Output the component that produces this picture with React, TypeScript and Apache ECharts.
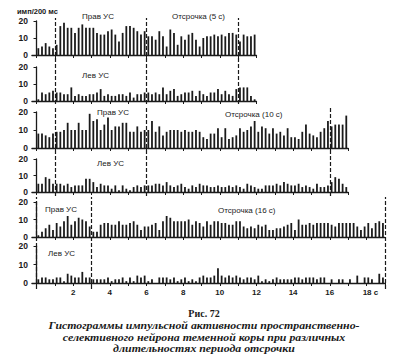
import React, { useEffect, useRef } from "react";
import * as echarts from "echarts";

// ---------- data ----------
const BIN_SEC = 0.2; // 200 ms bins
const xLabelValues = [2, 4, 6, 8, 10, 12, 14, 16, 18];

// Delay 5 s
const rightCue5 = [4, 5, 7, 5, 4,
  6, 17, 19, 16, 16, 13, 16, 18, 16, 16, 16, 13, 12, 12, 14, 15, 12, 8, 13, 17, 17, 16, 14, 12, 14,
  11, 11, 9, 14, 11, 5, 15, 13, 6, 11, 9, 12, 13, 9, 5, 10, 11, 11, 12, 11, 12, 11, 13, 13, 12,
  8, 12, 11, 11, 12];
const leftCue5 = [1, 5, 4, 5, 6,
  5, 5, 4, 4, 8, 3, 4, 3, 3, 4, 4, 5, 7, 3, 4, 3, 3, 4, 4, 3, 5, 2, 4, 4, 5,
  5, 4, 5, 4, 8, 4, 6, 7, 3, 4, 5, 5, 6, 3, 6, 4, 3, 5, 5, 7, 4, 6, 4, 3, 7,
  8, 8, 8, 3, 1];
// Delay 10 s
const rightCue10 = [8, 8, 7, 6, 8,
  9, 9, 10, 14, 10, 10, 14, 10, 10, 19, 15, 16, 10, 13, 17, 10, 12, 12, 14, 14, 9, 9, 12, 9, 10,
  10, 15, 9, 12, 7, 9, 10, 10, 10, 9, 10, 9,
  9, 10, 9, 6, 5, 8, 8, 11, 6, 11, 5, 6, 7, 11, 9, 10, 12, 15, 9, 12, 11, 8, 11, 8, 9, 7, 11, 6, 6, 5, 9, 13, 8, 7, 6, 9, 11, 15,
  12, 13, 13, 13, 18];
const leftCue10 = [5, 5, 9, 8, 5,
  5, 5, 4, 5, 3, 4, 4, 4, 8, 8, 6, 3, 5, 4, 4, 2, 4, 1, 4, 2, 1, 3, 4, 3, 4,
  4, 4, 5, 5, 4, 6, 4, 3, 4, 5, 3, 2, 4,
  3, 5, 4, 4, 3, 3, 4, 3, 3, 4, 3, 4, 3, 2, 5, 4, 3, 2, 2, 4, 4, 4, 5, 4, 6, 5, 4, 4, 5, 3, 4, 3, 2, 5, 3, 3, 4,
  6, 9, 8, 5, 3];
// Delay 16 s
const rightCue16 = [1, 3, 5, 7, 4, 8, 6, 9, 12, 7, 9, 11, 10, 9, 6,
  3, 3, 7, 8, 8, 7, 7, 9, 7, 7, 8, 9, 7, 4, 6, 6, 7, 8, 4, 9, 12, 11, 9, 9, 9, 9, 10, 7, 9, 8, 6,
  9, 7, 9, 9, 8, 8, 7, 7, 9, 9, 6, 5, 6, 5, 7, 6, 7, 4, 4, 5, 5, 6, 7, 8, 4, 10, 7, 7, 8, 7,
  8, 8, 8, 8, 7, 6, 8, 8, 8, 8, 8, 6, 4, 6, 8, 5, 8, 9, 8];
const leftCue16 = [2, 3, 3, 2, 2, 3, 3, 1, 5, 4, 3, 3, 6, 3, 3,
  2, 2, 2, 2, 3, 1, 2, 2, 3, 1, 3, 1, 4, 3, 4, 1, 2, 0, 3, 3, 3, 2, 3, 1, 2, 3, 1, 2, 1, 3, 4,
  3, 3, 4, 8, 4, 3, 4, 3, 4, 3, 2, 3, 3, 2, 4, 1, 2, 1, 2, 3, 2, 2, 2, 2, 3, 3, 2, 3, 3, 3,
  2, 3, 3, 0, 2, 0, 2, 2, 0, 2, 0, 4, 0, 3, 3, 2, 0, 5, 3];

// epoch boundaries (s): cue onset, delay onset, delay end
const markers5 = [1, 6, 11];
const markers10 = [1, 6, 16];
const markers16 = [0, 3, 19];

const captionLines = [
  "Гистограммы импульсной активности пространственно-",
  "селективного нейрона теменной коры при различных",
  "длительностях периода отсрочки",
];

// ---------- layout ----------
const PX_PER_SEC = 18.33;
const X0 = 36.5;
const X_MIN = -0.25;
const INK = "#1a1a1a";
const SANS = "'Liberation Sans', Arial, sans-serif";
const SERIF = "'Liberation Serif', 'Times New Roman', serif";

const panels = [
  { values: rightCue5, end: 12, top: 21, bottom: 55 },
  { values: leftCue5, end: 12, top: 67, bottom: 101 },
  { values: rightCue10, end: 17, top: 112, bottom: 148 },
  { values: leftCue10, end: 17, top: 159, bottom: 192 },
  { values: rightCue16, end: 19, top: 202, bottom: 237 },
  { values: leftCue16, end: 19, top: 246, bottom: 283 },
];
const overlays = [
  { markers: markers5, end: 12, top: 18, bottom: 104 },
  { markers: markers10, end: 17, top: 107, bottom: 196 },
  { markers: markers16, end: 19, top: 197, bottom: 289 },
];

const range = (n: number) => Array.from({ length: n + 1 }, (_, i) => i);

function buildOption() {
  const grid: any[] = [];
  const xAxis: any[] = [];
  const yAxis: any[] = [];
  const series: any[] = [];

  panels.forEach((p, i) => {
    grid.push({
      left: X0 + X_MIN * PX_PER_SEC,
      top: p.top,
      width: (p.end - X_MIN) * PX_PER_SEC,
      height: p.bottom - p.top,
    });
    const last = i === panels.length - 1;
    xAxis.push({
      type: "value",
      gridIndex: i,
      min: X_MIN,
      max: p.end,
      axisLine: { show: true, lineStyle: { color: INK, width: 1.3 } },
      axisTick: { show: true, length: 3, lineStyle: { color: INK, width: 1 }, customValues: range(p.end) },
      axisLabel: last
        ? {
            show: true,
            customValues: xLabelValues,
            color: INK,
            fontSize: 8,
            fontWeight: "bold",
            fontFamily: SANS,
            margin: 5,
            formatter: (v: number) => (v === 18 ? "{p|}18 с" : String(v)),
            rich: { p: { width: 8 } },
          }
        : { show: false },
      splitLine: { show: false },
    });
    yAxis.push({
      type: "value",
      gridIndex: i,
      min: 0,
      max: 20,
      interval: 10,
      axisLine: { show: true, lineStyle: { color: INK, width: 1.3 } },
      axisTick: { show: true, length: 3, lineStyle: { color: INK } },
      axisLabel: { color: INK, fontSize: 8.5, fontWeight: "bold", fontFamily: SANS, margin: 4 },
      splitLine: { show: false },
    });
    series.push({
      type: "bar",
      xAxisIndex: i,
      yAxisIndex: i,
      barWidth: 1.8,
      itemStyle: { color: INK },
      data: p.values.map((v, k) => [k * BIN_SEC + BIN_SEC / 2, v]),
    });
  });

  overlays.forEach((o, j) => {
    const gi = panels.length + j;
    grid.push({
      left: X0 + X_MIN * PX_PER_SEC,
      top: o.top,
      width: (o.end - X_MIN) * PX_PER_SEC,
      height: o.bottom - o.top,
    });
    xAxis.push({ type: "value", gridIndex: gi, min: X_MIN, max: o.end, show: false });
    yAxis.push({ type: "value", gridIndex: gi, min: 0, max: 1, show: false });
    series.push({
      type: "line",
      xAxisIndex: gi,
      yAxisIndex: gi,
      data: [],
      showSymbol: false,
      silent: true,
      markLine: {
        silent: true,
        symbol: ["none", "none"],
        label: { show: false },
        lineStyle: { type: [4, 2], color: INK, width: 1.2 },
        data: o.markers.map((m) => ({ xAxis: m })),
      },
    });
  });

  const txt = (text: string, x: number, y: number, extra: any = {}, el: any = {}) => ({
    type: "text",
    x,
    y,
    ...el,
    style: {
      text,
      fill: INK,
      font: `8px ${SANS}`,
      textVerticalAlign: "middle",
      ...extra,
    },
  });

  const captionStyle = { font: `italic bold 10.5px ${SERIF}`, textAlign: "center" };
  const graphic = [
    txt("имп/200 мс", 17, 11, { font: `bold 7.5px ${SANS}` }),
    txt("Прав УС", 82, 16),
    txt("Отсрочка (5 с)", 172, 16),
    txt("Лев УС", 82, 75),
    txt("Прав УС", 97, 112),
    txt("Отсрочка (10 с)", 225, 114),
    txt("Лев УС", 97, 163),
    txt("Прав УС", 45, 209),
    txt("Отсрочка (16 с)", 218, 210),
    txt("Лев УС", 48, 253),
    txt("Рис. 72", 204, 313, { font: `bold 10px ${SERIF}`, textAlign: "center" }),
    ...captionLines.map((line, k) =>
      txt(line, 204, 325.5 + k * 11.5, captionStyle, { scaleX: 1.13 })
    ),
  ];

  return {
    animation: false,
    backgroundColor: "#ffffff",
    grid,
    xAxis,
    yAxis,
    series,
    graphic,
  };
}

export default function App() {
  const ref = useRef<HTMLDivElement>(null);
  useEffect(() => {
    document.body.style.margin = "0";
    if (!ref.current) return;
    const chart = echarts.init(ref.current, undefined, { renderer: "svg" });
    chart.setOption(buildOption() as any);
    return () => chart.dispose();
  }, []);
  return <div ref={ref} style={{ width: 409, height: 360 }} />;
}
